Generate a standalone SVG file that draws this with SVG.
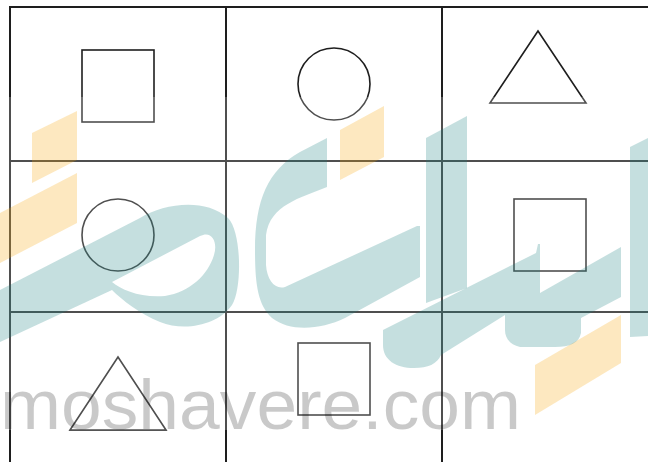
<svg xmlns="http://www.w3.org/2000/svg" width="648" height="462" viewBox="0 0 648 462">
  <style>
    .grid { stroke: #1e1e1e; stroke-width: 2; fill: none; }
    .shape { stroke: #1e1e1e; stroke-width: 1.6; fill: none; }
    .teal { fill: #177f7f; fill-opacity: 0.25; }
    .orange { fill: #f7a303; fill-opacity: 0.25; }
    .wm { font-family: "Liberation Sans", Arial, sans-serif; font-size: 70px; fill: #000; fill-opacity: 0.21; }
  </style>
  <rect x="0" y="0" width="648" height="462" fill="#ffffff"/>

  <g id="grid">
    <line class="grid" x1="10" y1="7" x2="648" y2="7"/>
    <line class="grid" x1="10" y1="161" x2="648" y2="161"/>
    <line class="grid" x1="10" y1="312" x2="648" y2="312"/>
    <line class="grid" x1="10" y1="6" x2="10" y2="462"/>
    <line class="grid" x1="226" y1="6" x2="226" y2="462"/>
    <line class="grid" x1="442" y1="6" x2="442" y2="462"/>
  </g>

  <g id="cell-1-1"><rect class="shape" x="82" y="50" width="72" height="72"/></g>
  <g id="cell-1-2"><circle class="shape" cx="334" cy="84" r="36"/></g>
  <g id="cell-1-3"><polygon class="shape" points="538,31 490,103 586,103"/></g>
  <g id="cell-2-1"><circle class="shape" cx="118" cy="235" r="36"/></g>
  <g id="cell-2-2"></g>
  <g id="cell-2-3"><rect class="shape" x="514" y="199" width="72" height="72"/></g>
  <g id="cell-3-1"><polygon class="shape" points="118,357 70,430 166,430"/></g>
  <g id="cell-3-2"><rect class="shape" x="298" y="343" width="72" height="72"/></g>
  <g id="cell-3-3"></g>

  <g id="watermark">
    <rect x="0" y="97" width="648" height="333" fill="#ffffff" fill-opacity="0.22"/>
    <polygon class="orange" points="32,133 77,111 77,160 32,183"/>
    <polygon class="orange" points="0,213 77,173 77,223 0,263"/>
    <polygon class="orange" points="340,130 384,106 384,157 340,180"/>
    <polygon class="orange" points="535,365 621,315 621,363 535,415"/>
    <path class="teal" fill-rule="evenodd" d="M0,290 L140,218 C165,203 205,198 228,218 C242,232 242,290 232,305 C218,325 185,332 160,322 C140,314 122,300 112,290 L0,342 Z M112,282 L200,236 C212,230 218,242 214,255 C208,275 190,292 165,296 C140,298 122,290 112,282 Z"/>
    <path class="teal" d="M327,138 L327,187 C300,198 270,205 266,235 L266,265 C267,280 275,290 285,287 L417,226 L420,226 L420,277 L345,318 C320,330 290,332 272,318 C258,305 255,285 255,250 C255,200 268,170 300,152 Z"/>
    <polygon class="teal" points="426,138 467,116 467,288 426,303"/>
    <path class="teal" d="M383,330 L536,253 L538,244 L540,244 L540,293 L621,247 L621,297 L581,318 L581,333 C579,343 570,347 555,347 L520,347 C510,345 505,338 505,330 L505,315 L441,355 C437,364 428,368 414,368 C396,368 383,360 383,345 Z"/>
    <polygon class="teal" points="630,147 648,138 648,336 630,337"/>
    <text class="wm" x="0" y="429" textLength="521" lengthAdjust="spacingAndGlyphs">moshavere.com</text>
  </g>
</svg>
